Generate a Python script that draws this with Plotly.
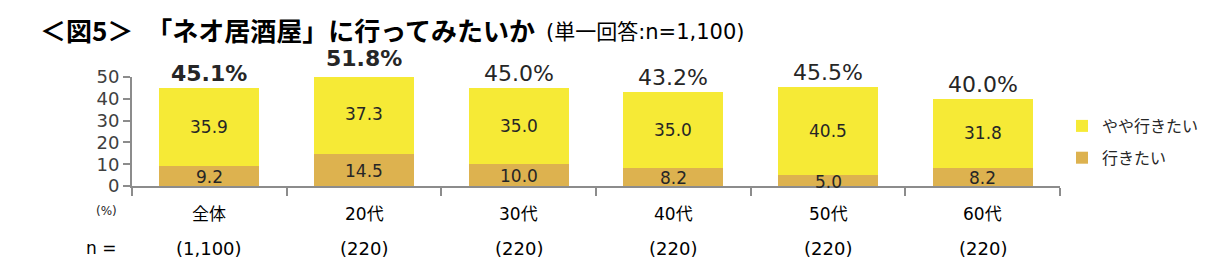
import plotly.graph_objects as go

categories = ["全体", "20代", "30代", "40代", "50代", "60代"]
n_labels = ["(1,100)", "(220)", "(220)", "(220)", "(220)", "(220)"]
want = [9.2, 14.5, 10.0, 8.2, 5.0, 8.2]          # 行きたい
somewhat = [35.9, 37.3, 35.0, 35.0, 40.5, 31.8]   # やや行きたい
totals = [45.1, 51.8, 45.0, 43.2, 45.5, 40.0]
bold_total = [True, True, False, False, False, False]

YELLOW = "#F6EA36"
TAN = "#DDB24F"
TXT = "#262626"
NUMFONT = "DejaVu Sans, Verdana, sans-serif"
JPFONT = "Noto Sans CJK JP, sans-serif"
MIXFONT = "DejaVu Sans, Noto Sans CJK JP, sans-serif"

# plot area in pixels
L, R, T, B = 132, 1060, 77, 186
PW, PH = R - L, B - T


def px(x):
    return (x - L) / PW


def py(y):
    return (B - y) / PH


fig = go.Figure()
fig.add_trace(go.Bar(
    x=categories, y=want, name="行きたい", legendgroup="a", legendrank=2,
    marker=dict(color=TAN, line=dict(width=0)),
))
fig.add_trace(go.Bar(
    x=categories, y=somewhat, name="やや行きたい", legendgroup="b", legendrank=1,
    marker=dict(color=YELLOW, line=dict(width=0)),
))

annotations = []
for c, w, s in zip(categories, want, somewhat):
    annotations.append(dict(
        x=c, y=w / 2.0, xref="x", yref="y", text=f"{w:.1f}", showarrow=False,
        yanchor="middle", yshift=-1, font=dict(family=NUMFONT, size=17, color=TXT),
    ))
    annotations.append(dict(
        x=c, y=w + s / 2.0, xref="x", yref="y", text=f"{s:.1f}", showarrow=False,
        yanchor="middle", font=dict(family=NUMFONT, size=17, color=TXT),
    ))
for c, t, b in zip(categories, totals, bold_total):
    annotations.append(dict(
        x=c, y=py(B) + t / 50.0, xref="x", yref="paper",
        text=(f"<b>{t:.1f}%</b>" if b else f"{t:.1f}%"),
        showarrow=False, yanchor="middle", yshift=15, height=22,
        font=dict(family=NUMFONT, size=22, color=TXT),
    ))
for c, n in zip(categories, n_labels):
    annotations.append(dict(
        x=c, y=py(214), xref="x", yref="paper", text=c, showarrow=False,
        font=dict(family=MIXFONT, size=17, color="#000000"), yanchor="middle",
    ))
    annotations.append(dict(
        x=c, y=py(248), xref="x", yref="paper", text=n, showarrow=False,
        font=dict(family=NUMFONT, size=18, color="#000000"), yanchor="middle",
    ))
annotations.append(dict(x=px(106), y=py(211), xref="paper", yref="paper", text="(%)",
                        showarrow=False, xanchor="center", yanchor="middle",
                        font=dict(family=NUMFONT, size=12, color=TXT)))
annotations.append(dict(x=px(101), y=py(248), xref="paper", yref="paper", text="n =",
                        showarrow=False, xanchor="center", yanchor="middle",
                        font=dict(family=NUMFONT, size=17, color="#000000")))
annotations.append(dict(
    xref="paper", yref="paper", x=px(38), y=py(29), xanchor="left", yanchor="middle",
    text="<b>＜図5＞　「ネオ居酒屋」に行ってみたいか</b>", height=30,
    showarrow=False, font=dict(family=JPFONT, size=26, color="#000000"),
))
annotations.append(dict(
    xref="paper", yref="paper", x=px(544), y=py(32), xanchor="left", yanchor="middle",
    text="(単一回答:n=1,100)", height=26,
    showarrow=False, font=dict(family=MIXFONT, size=21, color="#000000"),
))

fig.update_layout(
    width=1225, height=275,
    margin=dict(l=L, r=1225 - R, t=T, b=275 - B),
    barmode="stack", bargap=0.355,
    plot_bgcolor="white", paper_bgcolor="white",
    font=dict(family=JPFONT, color=TXT),
    showlegend=True,
    legend=dict(traceorder="grouped", x=px(1062), y=py(142), xanchor="left", yanchor="middle",
                font=dict(family=JPFONT, size=16, color=TXT), itemwidth=30,
                tracegroupgap=8, bgcolor="rgba(0,0,0,0)"),
    xaxis=dict(showticklabels=False, showline=True, linecolor="#8C8C8C", linewidth=2,
               ticks="outside", tickson="boundaries", ticklen=8, tickcolor="#8C8C8C",
               tickwidth=2, showgrid=False, fixedrange=True),
    yaxis=dict(range=[0, 50], dtick=10, showline=True, linecolor="#8C8C8C", linewidth=2,
               ticks="outside", ticklen=7, tickcolor="#8C8C8C", tickwidth=2, showgrid=False,
               tickfont=dict(family=NUMFONT, size=18, color="#404040"), zeroline=False),
    annotations=annotations,
)

fig.write_html("out.html")
